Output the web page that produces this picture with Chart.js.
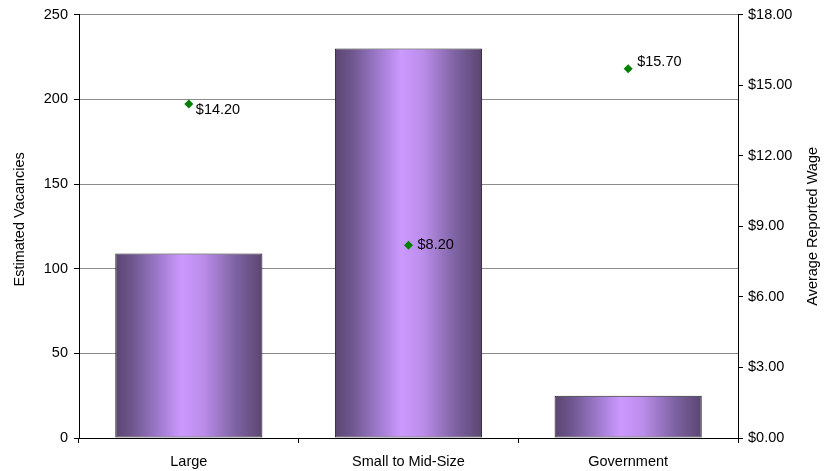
<!DOCTYPE html>
<html>
<head>
<meta charset="utf-8">
<script src="https://cdn.jsdelivr.net/npm/chart.js@4/dist/chart.umd.min.js"></script>
<style>
  html, body { margin: 0; padding: 0; background: #fff; }
  #wrap { width: 833px; height: 471px; }
</style>
</head>
<body>
<div id="wrap"><canvas id="myChart" width="833" height="471"></canvas></div>
<script>
// data
var categories = ["Large", "Small to Mid-Size", "Government"];
var vacancies = [109, 230, 25];
var wages = [14.2, 8.2, 15.7];
var vacancyTicks = [0, 50, 100, 150, 200, 250];
var wageTicks = [0, 3, 6, 9, 12, 15, 18];

// label nudges (px) for the wage labels
var labelDx = [7, 9, 9];
var labelDy = [6, 0, -7];

var FONT = "'Liberation Sans', Arial, sans-serif";
var FSIZE = 14.5;
var BAR_PCT = 0.67;

function barGradient(context) {
  var chart = context.chart;
  var area = chart.chartArea;
  if (!area) return "#b48ae0";
  var xs = chart.scales.x;
  var cx = xs.getPixelForValue(context.dataIndex);
  var w = (area.right - area.left) / categories.length * BAR_PCT;
  var g = chart.ctx.createLinearGradient(cx - w / 2, 0, cx + w / 2, 0);
  g.addColorStop(0, "#5a4670");
  g.addColorStop(0.12, "#6f578f");
  g.addColorStop(0.3, "#a07bcf");
  g.addColorStop(0.45, "#cc99ff");
  g.addColorStop(0.6, "#bb8dea");
  g.addColorStop(0.82, "#7d62a2");
  g.addColorStop(1, "#5a4670");
  return g;
}

// draws "$14.20" etc next to each diamond
var wageLabels = {
  id: "wageLabels",
  afterDatasetsDraw: function (chart) {
    var meta = chart.getDatasetMeta(1);
    var ctx = chart.ctx;
    ctx.save();
    ctx.font = FSIZE + "px " + FONT;
    ctx.fillStyle = "#000";
    ctx.textAlign = "left";
    ctx.textBaseline = "middle";
    meta.data.forEach(function (pt, i) {
      ctx.fillText("$" + wages[i].toFixed(2), pt.x + labelDx[i], pt.y + labelDy[i]);
    });
    ctx.restore();
  }
};

// both axis titles read bottom-to-top
var axisTitles = {
  id: "axisTitles",
  afterDraw: function (chart) {
    var area = chart.chartArea;
    var ctx = chart.ctx;
    var mid = (area.top + area.bottom) / 2;
    function vtext(txt, x, y) {
      ctx.save();
      ctx.font = FSIZE + "px " + FONT;
      ctx.fillStyle = "#000";
      ctx.textAlign = "center";
      ctx.textBaseline = "middle";
      ctx.translate(x, y);
      ctx.rotate(-Math.PI / 2);
      ctx.fillText(txt, 0, 0);
      ctx.restore();
    }
    vtext("Estimated Vacancies", 20, mid - 7);
    vtext("Average Reported Wage", 813, mid);
  }
};

var ctx = document.getElementById("myChart");
var chart = new Chart(ctx, {
  data: {
    labels: categories,
    datasets: [
      {
        type: "bar",
        label: "Estimated Vacancies",
        data: vacancies,
        yAxisID: "y",
        backgroundColor: barGradient,
        borderColor: "#222",
        borderWidth: 1,
        borderSkipped: false,
        barPercentage: BAR_PCT,
        categoryPercentage: 1.0,
        order: 2
      },
      {
        type: "line",
        label: "Average Reported Wage",
        data: wages,
        yAxisID: "y1",
        showLine: false,
        pointStyle: "rectRot",
        pointRadius: 4.5,
        pointHoverRadius: 4.5,
        pointBackgroundColor: "#008000",
        pointBorderColor: "#008000",
        pointBorderWidth: 0,
        order: 1
      }
    ]
  },
  options: {
    responsive: false,
    animation: false,
    devicePixelRatio: 1,
    layout: { padding: { top: 14, right: 0, bottom: 0, left: 0 } },
    plugins: {
      legend: { display: false },
      tooltip: { enabled: false }
    },
    scales: {
      x: {
        offset: true,
        grid: {
          display: true,
          offset: true,
          drawOnChartArea: false,
          drawTicks: true,
          tickLength: 5,
          color: "#000"
        },
        border: { display: true, color: "#000", width: 1 },
        ticks: {
          color: "#000",
          font: { family: FONT, size: FSIZE },
          padding: 10,
          maxRotation: 0
        },
        afterFit: function (s) { s.height = 33; }
      },
      y: {
        position: "left",
        min: 0,
        max: 250,
        afterBuildTicks: function (s) {
          s.ticks = vacancyTicks.map(function (v) { return { value: v }; });
        },
        grid: {
          color: "#8c8c8c",
          tickColor: "#000",
          tickLength: 5,
          lineWidth: 1
        },
        border: { display: true, color: "#000", width: 1 },
        ticks: {
          color: "#000",
          font: { family: FONT, size: FSIZE },
          padding: 6
        },
        afterFit: function (s) { s.width = 79; }
      },
      y1: {
        position: "right",
        min: 0,
        max: 18,
        afterBuildTicks: function (s) {
          s.ticks = wageTicks.map(function (v) { return { value: v }; });
        },
        grid: {
          drawOnChartArea: false,
          tickColor: "#000",
          tickLength: 5
        },
        border: { display: true, color: "#000", width: 1 },
        ticks: {
          color: "#000",
          font: { family: FONT, size: FSIZE },
          padding: 5,
          callback: function (v) { return "$" + Number(v).toFixed(2); }
        },
        afterFit: function (s) { s.width = 95; }
      }
    }
  },
  plugins: [wageLabels, axisTitles]
});
</script>
</body>
</html>
